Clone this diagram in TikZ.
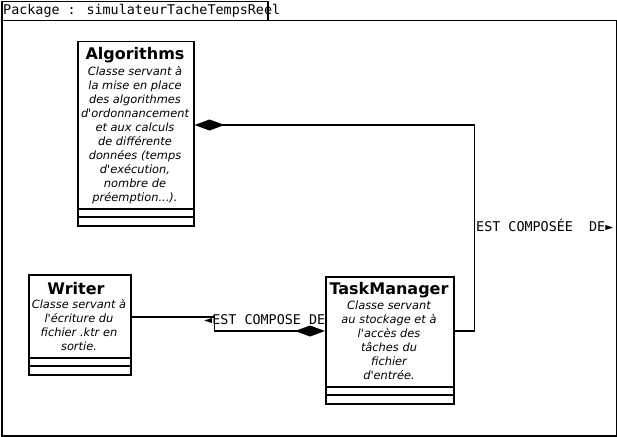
\documentclass[tikz,border=0pt]{standalone}
\usepackage{fontspec}
\setmainfont{DejaVu Sans}[Ligatures=TeXOff]
\newfontfamily\monof{DejaVu Sans Mono}
\usetikzlibrary{arrows.meta,calc}
\begin{document}
\begin{tikzpicture}[x=1pt,y=-1pt,
 box/.style={draw,line width=1.5pt,anchor=north west,inner sep=0pt},
 ttl/.style={font=\fontsize{16}{18}\selectfont\bfseries,inner sep=0pt},
 dsc/.style={font=\fontsize{11.4}{14}\selectfont\itshape,align=center,inner sep=0pt,anchor=north},
 lbl/.style={font=\fontsize{13.4}{15}\selectfont\monof,inner sep=0pt,anchor=west},
 comp/.style={line width=1.5pt,-{Diamond[length=30pt,width=11pt]}},
 sep/.style={line width=1.5pt}]
\useasboundingbox (0,0) rectangle (617,436);
\fill[white] (0,0) rectangle (617,436);
% package frame
\node[box,minimum width=266pt,minimum height=19pt] (tab) at (1,1) {};
\node[box,minimum width=615pt,minimum height=415pt] (frame) at (1,20) {};
\node[lbl] (pk) at (3,11) {Package : simulateurTacheTempsReel};
% Algorithms
\node[box,minimum width=116pt,minimum height=184pt] (alg) at (77,41) {};
\draw[sep] (alg.west |- 0,209) -- (alg.east |- 0,209);
\draw[sep] (alg.west |- 0,217) -- (alg.east |- 0,217);
\node[ttl] (algT) at (135,55) {Algorithms};
\node[dsc] (algD) at (135,66) {Classe servant à\\la mise en place\\des algorithmes\\d'ordonnancement\\et aux calculs\\de différente\\données (temps\\d'exécution,\\nombre de\\préemption...).};
% Writer
\node[box,minimum width=102pt,minimum height=100pt] (wr) at (28,274) {};
\draw[sep] (wr.west |- 0,358) -- (wr.east |- 0,358);
\draw[sep] (wr.west |- 0,366) -- (wr.east |- 0,366);
\node[ttl] (wrT) at (76,289) {Writer};
\node[dsc] (wrD) at (79,299) {Classe servant à\\l'écriture du\\fichier .ktr en\\sortie.};
% TaskManager
\node[box,minimum width=128pt,minimum height=127pt] (tm) at (325,276) {};
\draw[sep] (tm.west |- 0,387) -- (tm.east |- 0,387);
\draw[sep] (tm.west |- 0,395) -- (tm.east |- 0,395);
\node[ttl] (tmT) at (389,290) {TaskManager};
\node[dsc] (tmD) at (389,301) {Classe servant\\au stockage et à\\l'accès des\\tâches du\\fichier\\d'entrée.};
% connectors
\draw[comp] ($(tm.north east)+(0,55)$) -- ++(20,0) |- ($(alg.north east)+(0,84)$);
\draw[comp] ($(wr.north east)+(0,43)$) -- ++(83,0) |- ($(tm.north west)+(0,55)$);
\node[lbl] (l1) at (476,225) {EST COMPOSÉE\ \ DE►};
\node[lbl] (l2) at (204,320) {◄EST COMPOSE DE};
\end{tikzpicture}
\end{document}
